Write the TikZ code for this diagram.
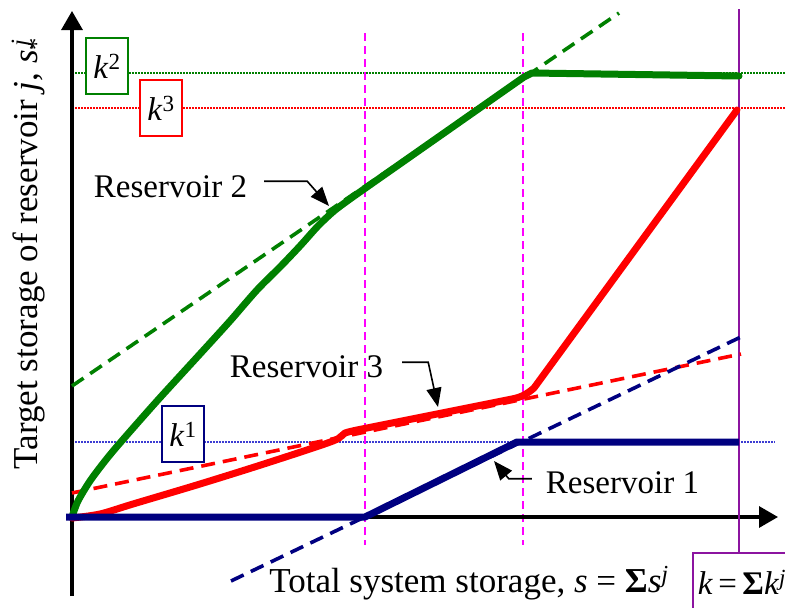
\documentclass[tikz,border=0pt]{standalone}
\usepackage{fontspec}
\setmainfont{Liberation Serif}
\usetikzlibrary{arrows.meta}
\definecolor{cgreen}{RGB}{0,128,0}
\definecolor{cred}{RGB}{255,0,0}
\definecolor{cnavy}{RGB}{0,0,128}
\definecolor{cmag}{RGB}{255,0,255}
\definecolor{cpurple}{RGB}{140,20,160}
\definecolor{cdotblue}{RGB}{60,60,210}
\begin{document}
\begin{tikzpicture}[x=1pt,y=-1pt,
  lbl/.style={font=\fontsize{33}{40}\selectfont, inner sep=0pt},
  axlbl/.style={font=\fontsize{35}{42}\selectfont, inner sep=0pt},
  kbox/.style={draw, fill=white, line width=1.5pt, minimum width=42pt, minimum height=56pt, inner sep=0pt, font=\fontsize{33}{40}\selectfont},
  axisline/.style={line width=3.2pt, -{Triangle[length=19pt,width=21pt]}},
  solidcurve/.style={line width=7pt, line join=round, line cap=round},
  dashcurve/.style={line width=3.6pt, dash pattern=on 14pt off 8pt},
  guide/.style={cmag, line width=1.8pt, dash pattern=on 8pt off 5pt},
  level/.style={line width=1.3pt, dash pattern=on 1.5pt off 1.5pt},
  callout/.style={line width=1.6pt, -{Triangle[length=19pt,width=15pt]}}
]
\useasboundingbox (0,0) rectangle (785,608);

% dotted capacity levels
\coordinate (g0) at (72,73);   \coordinate (g1) at (785,73);
\coordinate (r0) at (72,108);  \coordinate (r1) at (785,108);
\coordinate (b0) at (72,442);  \coordinate (b1) at (775,442);
\draw[level, cgreen] (g0) -- (g1);
\draw[level, cred] (r0) -- (r1);
\draw[level, cdotblue] (b0) -- (b1);

% magenta guides
\coordinate (m1t) at (365,33); \coordinate (m1b) at (365,545);
\coordinate (m2t) at (523,33); \coordinate (m2b) at (523,545);
\draw[guide] (m1t) -- (m1b);
\draw[guide] (m2t) -- (m2b);

% axes
\coordinate (o) at (72,517);
\coordinate (ybot) at (72,596);
\coordinate (ytop) at (72,11);
\coordinate (xleft) at (68,517);
\coordinate (xtip) at (778,517);
\draw[axisline] (ybot) -- (ytop);
\draw[axisline] (xleft) -- (xtip);

% purple total capacity line and box
\node[draw=cpurple, line width=1.5pt, anchor=north west, minimum height=60pt,
      text width=115pt, align=left, inner xsep=5pt, inner ysep=0pt,
      font=\fontsize{33}{40}\selectfont] (ksum) at (692,552)
  {\textit{k}\,=\,\textbf{Σ}\textit{k}\textsuperscript{\textit{j}}};
\coordinate (ptop) at (739,9);
\draw[cpurple, line width=2pt] (ptop) -- (ptop |- ksum.north);

% dashed linear trends
\coordinate (gd0) at (72,386);  \coordinate (gd1) at (619,13);
\coordinate (rd0) at (72,493);  \coordinate (rd1) at (741,354);
\coordinate (bd0) at (231,581); \coordinate (bd1) at (745,335);
\draw[dashcurve, cgreen] (gd0) -- (gd1);
\draw[dashcurve, cred] (rd0) -- (rd1);
\draw[dashcurve, cnavy] (bd0) -- (bd1);

% solid target curves
\draw[solidcurve, cgreen] plot[smooth, tension=0.5] coordinates {
  (72,517) (78,501) (90,481) (105,461) (120,443) (157,401) (200,354)
  (230,321) (257,290) (280,267) (300,246) (318,226) (334,211) (350,199) (367,187)}
  -- (524,77) -- (532,73) -- (739,76);
\draw[solidcurve, cred] plot[smooth, tension=0.5] coordinates {
  (72,518) (100,514) (133,504) (200,484) (267,463) (333,441) (345,433) (367,428)}
  -- (512,399) .. controls (522,397) and (527,394) .. (534,388) -- (737,110);
\draw[solidcurve, cnavy, line cap=butt] (66,517) -- (365,517) -- (517,442) -- (739,442);

% capacity boxes
\node[kbox, draw=cgreen] (k2) at (107,66) {\textit{k}\textsuperscript{2}};
\node[kbox, draw=cred] (k3) at (161,108) {\textit{k}\textsuperscript{3}};
\node[kbox, draw=cnavy] (k1) at (183,434) {\textit{k}\textsuperscript{1}};

% reservoir labels with callouts
\node[lbl, anchor=base] (res2) at (170.5,197) {Reservoir 2};
\node[lbl, anchor=base] (res3) at (306.5,377) {Reservoir 3};
\node[lbl, anchor=base] (res1) at (622.5,493) {Reservoir 1};
\coordinate (t2) at (329,206);
\coordinate (t3) at (438,407);
\coordinate (t1) at (494,461);
\draw[callout] ([xshift=17pt,yshift=5pt]res2.east) -- ++(43,0) -- (t2);
\draw[callout] ([xshift=19pt,yshift=4pt]res3.east) -- ++(26,0) -- (t3);
\draw[callout] ([xshift=-14pt,yshift=3.5pt]res1.west) -- ++(-23,0) -- (t1);

% axis titles
\node[axlbl, anchor=base] (xlab) at (469,592)
  {Total system storage, \textit{s} = \textbf{Σ}\textit{s}\textsuperscript{\textit{j}}};
\node[axlbl, anchor=base, rotate=90] (ylab) at (37,254)
  {Target storage of reservoir \textit{j}, \textit{s}\rlap{\textsubscript{*}}\textsuperscript{\,\textit{j}}};
\end{tikzpicture}
\end{document}
